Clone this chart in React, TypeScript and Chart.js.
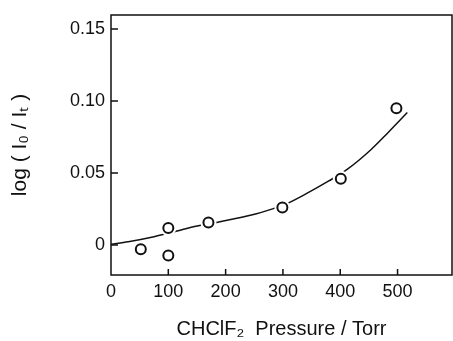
import React, { useEffect, useRef } from "react";
import { Chart, registerables } from "chart.js";

Chart.register(...registerables);

// Measured absorbance vs. CHClF2 pressure
const pressures = [52, 100, 100, 170, 299, 401, 498];
const absorbance = [-0.003, 0.0118, -0.0072, 0.0157, 0.026, 0.046, 0.095];

// Smooth fitted curve
const fitPressures = [0, 30, 75, 115, 140, 190, 245, 285, 300, 340, 380, 412, 453, 482, 517];
const fitAbsorbance = [0.0005, 0.0023, 0.0058, 0.0097, 0.0123, 0.0162, 0.0208, 0.0255, 0.0275, 0.0355, 0.0445, 0.0525, 0.066, 0.0775, 0.092];

// Axis ticks
const xTickValues = [0, 100, 200, 300, 400, 500];
const xTickLabels = ["0", "100", "200", "300", "400", "500"];
const yTickValues = [0, 0.05, 0.1, 0.15];
const yTickLabels = ["0", "0.05", "0.10", "0.15"];

const FONT = "'Liberation Sans', Arial, sans-serif";
const INK = "#111";

// Box frame plus short inward tick marks
const framePlugin = {
  id: "frameTicks",
  afterDatasetsDraw(chart: any) {
    const { ctx, chartArea, scales } = chart;
    const { left, right, top, bottom } = chartArea;
    ctx.save();
    ctx.strokeStyle = INK;
    ctx.lineWidth = 1.5;
    ctx.strokeRect(left, top, right - left, bottom - top);
    ctx.beginPath();
    for (const v of xTickValues) {
      if (v === 0) continue;
      const px = scales.x.getPixelForValue(v);
      ctx.moveTo(px, bottom);
      ctx.lineTo(px, bottom - 6);
    }
    for (const v of yTickValues) {
      const py = scales.y.getPixelForValue(v);
      ctx.moveTo(left, py);
      ctx.lineTo(left + 7, py);
    }
    ctx.stroke();
    ctx.restore();
  },
};

export default function App() {
  const canvasRef = useRef<HTMLCanvasElement | null>(null);

  useEffect(() => {
    const canvas = canvasRef.current;
    if (!canvas) return;
    const chart = new Chart(canvas, {
      type: "scatter",
      data: {
        datasets: [
          {
            label: "measured",
            data: pressures.map((p, i) => ({ x: p, y: absorbance[i] })),
            pointRadius: 5,
            pointBorderWidth: 2,
            pointBorderColor: INK,
            pointBackgroundColor: "#fff",
            showLine: false,
            order: 0,
          },
          {
            label: "halo",
            data: pressures.map((p, i) => ({ x: p, y: absorbance[i] })),
            pointRadius: 8,
            pointBorderWidth: 0,
            pointBackgroundColor: "#fff",
            pointBorderColor: "#fff",
            showLine: false,
            order: 1,
          },
          {
            label: "fit",
            data: fitPressures.map((p, i) => ({ x: p, y: fitAbsorbance[i] })),
            showLine: true,
            borderColor: INK,
            borderWidth: 1.5,
            pointRadius: 0,
            cubicInterpolationMode: "monotone",
            order: 2,
          },
        ],
      },
      plugins: [framePlugin],
      options: {
        animation: false,
        responsive: false,
        maintainAspectRatio: false,
        layout: { autoPadding: false, padding: { top: 15, right: 1, left: 0, bottom: 0 } },
        plugins: {
          legend: { display: false },
          tooltip: { enabled: false },
        },
        scales: {
          x: {
            type: "linear",
            min: 0,
            max: 595,
            grid: { display: false, drawTicks: false },
            border: { display: false },
            afterBuildTicks: (scale: any) => {
              scale.ticks = xTickValues.map((v) => ({ value: v }));
            },
            afterFit: (scale: any) => {
              scale.height = 66;
              scale.paddingLeft = 0;
              scale.paddingRight = 0;
            },
            ticks: {
              color: INK,
              font: { family: FONT, size: 18 },
              padding: 6,
              maxRotation: 0,
              autoSkip: false,
              callback: (v: any) => {
                const i = xTickValues.indexOf(Number(v));
                return i >= 0 ? xTickLabels[i] : "";
              },
            },
            title: {
              display: true,
              text: "CHClF₂  Pressure / Torr",
              color: INK,
              font: { family: FONT, size: 20 },
              padding: { top: 0, bottom: 0 },
            },
          },
          y: {
            type: "linear",
            min: -0.0208,
            max: 0.1597,
            grid: { display: false, drawTicks: false },
            border: { display: false },
            afterBuildTicks: (scale: any) => {
              scale.ticks = yTickValues.map((v) => ({ value: v }));
            },
            afterFit: (scale: any) => {
              scale.width = 111;
              scale.paddingTop = 0;
              scale.paddingBottom = 0;
            },
            ticks: {
              color: INK,
              font: { family: FONT, size: 18 },
              padding: 6,
              autoSkip: false,
              callback: (v: any) => {
                const i = yTickValues.findIndex((t) => Math.abs(t - Number(v)) < 1e-9);
                return i >= 0 ? yTickLabels[i] : "";
              },
            },
            title: {
              display: true,
              text: "log ( I₀ / Iₜ )",
              color: INK,
              font: { family: FONT, size: 21 },
              padding: { top: 8, bottom: 0 },
            },
          },
        },
      },
    });
    return () => chart.destroy();
  }, []);

  return (
    <div style={{ position: "fixed", left: 0, top: 0, width: 453, height: 341, background: "#fff" }}>
      <canvas ref={canvasRef} width={453} height={341} style={{ display: "block" }} />
    </div>
  );
}
